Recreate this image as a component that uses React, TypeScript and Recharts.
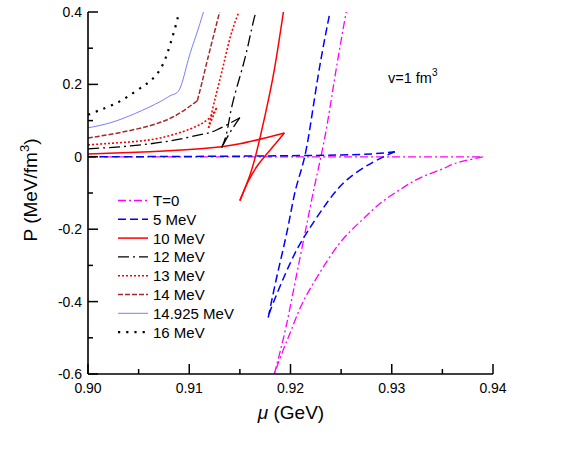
import { LineChart, Line, XAxis, YAxis } from 'recharts';

type Pt = [number, number];

// ── data: [mu (GeV), P (MeV/fm^3)] per branch ────────────────────────────────
const T0_GAS: Pt[] = [[0.9, 0], [0.939, 0]];
const T0_SPIN: Pt[] = [
  [0.939, 0], [0.9377, -0.008], [0.9362, -0.019], [0.9348, -0.036], [0.9328, -0.058],
  [0.9308, -0.091], [0.9288, -0.13], [0.9269, -0.179], [0.9249, -0.237], [0.9229, -0.32],
  [0.9212, -0.403], [0.9201, -0.477], [0.9193, -0.532], [0.9184, -0.6],
];
const T0_LIQ: Pt[] = [
  [0.9184, -0.6], [0.9195, -0.477], [0.9205, -0.34], [0.9215, -0.201], [0.9223, -0.091],
  [0.923, 0], [0.9237, 0.102], [0.9245, 0.24], [0.9255, 0.4],
];

const T5_GAS: Pt[] = [[0.9, 0.0], [0.91, 0.001], [0.92, 0.003], [0.925, 0.005], [0.928, 0.008], [0.9303, 0.014]];
const T5_SPIN: Pt[] = [
  [0.9303, 0.014], [0.9282, -0.014], [0.9256, -0.063], [0.9236, -0.127], [0.9216, -0.21],
  [0.92, -0.292], [0.9183, -0.403], [0.9178, -0.444],
];
const T5_LIQ: Pt[] = [
  [0.9178, -0.444], [0.9187, -0.325], [0.9197, -0.201], [0.9205, -0.091], [0.9214, 0],
  [0.9222, 0.13], [0.923, 0.268], [0.9239, 0.4],
];

const T10_GAS: Pt[] = [[0.9, 0.008], [0.9061, 0.014], [0.9111, 0.022], [0.915, 0.036], [0.9194, 0.066]];
const T10_SPIN: Pt[] = [[0.9194, 0.066], [0.918, 0.019], [0.9168, -0.022], [0.9158, -0.069], [0.915, -0.121]];
const T10_LIQ: Pt[] = [[0.915, -0.121], [0.916, -0.05], [0.9167, 0.019], [0.9175, 0.116], [0.9184, 0.24], [0.9193, 0.4]];

const T12_GAS: Pt[] = [[0.9, 0.022], [0.9042, 0.03], [0.9081, 0.044], [0.9111, 0.061], [0.9127, 0.074], [0.915, 0.108]];
const T12_SPIN: Pt[] = [[0.915, 0.108], [0.914, 0.066], [0.9132, 0.025]];
const T12_LIQ: Pt[] = [[0.9132, 0.025], [0.9137, 0.066], [0.9142, 0.138], [0.915, 0.221], [0.9157, 0.295], [0.9163, 0.37], [0.9166, 0.4]];

const T13_GAS: Pt[] = [[0.9, 0.033], [0.9041, 0.041], [0.9071, 0.052], [0.9101, 0.077], [0.9119, 0.105], [0.9127, 0.135]];
const T13_SPIN: Pt[] = [[0.9127, 0.135], [0.9123, 0.108], [0.9119, 0.08]];
const T13_LIQ: Pt[] = [[0.9119, 0.08], [0.9124, 0.143], [0.913, 0.21], [0.9136, 0.28], [0.9142, 0.345], [0.9149, 0.4]];

const T14_GAS: Pt[] = [[0.9, 0.052], [0.903, 0.066], [0.9061, 0.086], [0.9086, 0.113], [0.9108, 0.155]];
const T14_LIQ: Pt[] = [[0.9108, 0.155], [0.9113, 0.21], [0.9118, 0.268], [0.913, 0.4]];

const T14925: Pt[] = [
  [0.9, 0.08], [0.9022, 0.094], [0.9046, 0.119], [0.9071, 0.152], [0.9083, 0.171],
  [0.9091, 0.19], [0.9099, 0.268], [0.9107, 0.337], [0.9114, 0.4],
];

const T16: Pt[] = [
  [0.9, 0.116], [0.9017, 0.135], [0.9032, 0.154], [0.9046, 0.179], [0.9059, 0.204],
  [0.9069, 0.232], [0.9076, 0.268], [0.9081, 0.309], [0.9086, 0.356], [0.909, 0.4],
];

const X_TICKS = [0.9, 0.905, 0.91, 0.915, 0.92, 0.925, 0.93, 0.935, 0.94];
const Y_TICKS = [-0.6, -0.5, -0.4, -0.3, -0.2, -0.1, 0, 0.1, 0.2, 0.3, 0.4];

const SERIES = [
  { name: 'T=0', color: '#ff00ff', dash: '8 3 2 3', width: 1.3, branches: [T0_GAS, T0_SPIN, T0_LIQ] },
  { name: '5 MeV', color: '#0000ff', dash: '8 4', width: 1.5, branches: [T5_GAS, T5_SPIN, T5_LIQ] },
  { name: '10 MeV', color: '#ff0000', dash: undefined, width: 1.5, branches: [T10_GAS, T10_SPIN, T10_LIQ] },
  { name: '12 MeV', color: '#000000', dash: '11 4 2 4', width: 1.3, branches: [T12_GAS, T12_SPIN, T12_LIQ] },
  { name: '13 MeV', color: '#ff0000', dash: '2 2', width: 1.6, branches: [T13_GAS, T13_SPIN, T13_LIQ] },
  { name: '14 MeV', color: '#a52a2a', dash: '5 2', width: 1.5, branches: [T14_GAS, T14_LIQ] },
  { name: '14.925 MeV', color: '#5a5aff', dash: undefined, width: 0.8, branches: [T14925] },
  { name: '16 MeV', color: '#000000', dash: '2.2 6', width: 2.2, branches: [T16] },
];

const W = 581;
const H = 452;
const FONT = '"Liberation Sans", Arial, Helvetica, sans-serif';

const isMajorX = (v: number) => Math.round(v * 1000) % 10 === 0;
const isMajorY = (v: number) => Math.round(v * 10) % 2 === 0;

// ── inward ticks ──────────────────────────────────────────────────────────────
const BottomTick = ({ x, y, payload }: any) => {
  const major = isMajorX(payload.value);
  return (
    <g>
      <line x1={x} x2={x} y1={y} y2={y - (major ? 10 : 5)} stroke="#000" strokeWidth={1.5} />
      {major && (
        <text x={x} y={y + 19} textAnchor="middle" fontSize={14} fontFamily={FONT} fill="#000">
          {payload.value.toFixed(2)}
        </text>
      )}
    </g>
  );
};

const TopTick = ({ x, y, payload }: any) => {
  const major = isMajorX(payload.value);
  return <line x1={x} x2={x} y1={y} y2={y + (major ? 10 : 5)} stroke="#000" strokeWidth={1.5} />;
};

const LeftTick = ({ x, y, payload }: any) => {
  const major = isMajorY(payload.value);
  const v = payload.value;
  return (
    <g>
      <line x1={x} x2={x + (major ? 10 : 5)} y1={y} y2={y} stroke="#000" strokeWidth={1.5} />
      {major && (
        <text x={x - 6} y={y + 5} textAnchor="end" fontSize={14} fontFamily={FONT} fill="#000">
          {Math.abs(v) < 1e-9 ? '0' : v.toFixed(1)}
        </text>
      )}
    </g>
  );
};

const RightTick = ({ x, y, payload }: any) => {
  const major = isMajorY(payload.value);
  return <line x1={x} x2={x - (major ? 10 : 5)} y1={y} y2={y} stroke="#000" strokeWidth={1.5} />;
};

const axisLine = { stroke: '#000', strokeWidth: 1.6 };

export default function App() {
  return (
    <div style={{ position: 'absolute', left: 0, top: 0, width: W, height: H, background: '#fff' }}>
      <LineChart width={W} height={H} margin={{ top: 12, right: 88, bottom: 0, left: 0 }}>
        <XAxis
          xAxisId="b" dataKey="mu" type="number" domain={[0.9, 0.94]} ticks={X_TICKS} interval={0}
          height={78} tickSize={0} tickMargin={0} tickLine={false} axisLine={axisLine} tick={<BottomTick />}
          allowDataOverflow
        />
        <XAxis
          xAxisId="t" orientation="top" dataKey="mu" type="number" domain={[0.9, 0.94]} ticks={X_TICKS}
          interval={0} height={0} tickSize={0} tickMargin={0} tickLine={false} axisLine={axisLine} tick={<TopTick />}
          allowDataOverflow
        />
        <YAxis
          yAxisId="l" type="number" domain={[-0.6, 0.4]} ticks={Y_TICKS} interval={0} width={88}
          tickSize={0} tickMargin={0} tickLine={false} axisLine={axisLine} tick={<LeftTick />} allowDataOverflow
        />
        <YAxis
          yAxisId="r" orientation="right" type="number" domain={[-0.6, 0.4]} ticks={Y_TICKS} interval={0}
          width={0} tickSize={0} tickMargin={0} tickLine={false} axisLine={axisLine} tick={<RightTick />}
          allowDataOverflow
        />
        {SERIES.flatMap((s) =>
          s.branches.map((b, j) => (
            <Line
              key={`${s.name}-${j}`}
              xAxisId="b"
              yAxisId="l"
              data={b.map(([mu, p]) => ({ mu, p }))}
              dataKey="p"
              type={b.length > 2 ? 'natural' : 'linear'}
              stroke={s.color}
              strokeWidth={s.width}
              strokeDasharray={s.dash}
              dot={false}
              activeDot={false}
              isAnimationActive={false}
            />
          ))
        )}
      </LineChart>

      <svg width={W} height={H} style={{ position: 'absolute', left: 0, top: 0, pointerEvents: 'none' }}>
        {/* axis titles */}
        <text x={291} y={419} textAnchor="middle" fontSize={19} fontFamily={FONT} fill="#000">
          <tspan fontStyle="italic">μ</tspan> (GeV)
        </text>
        <text
          transform="translate(37,190) rotate(-90)" textAnchor="middle" fontSize={19}
          fontFamily={FONT} fill="#000"
        >
          P (MeV/fm<tspan dy={-8} fontSize={13}>3</tspan><tspan dy={8}>)</tspan>
        </text>
        <text x={388} y={83} fontSize={14.5} fontFamily={FONT} fill="#000">
          v=1 fm<tspan dy={-7} fontSize={10}>3</tspan>
        </text>

        {/* legend */}
        {SERIES.map((s, i) => {
          const y = 200.5 + i * 18.8;
          return (
            <g key={s.name}>
              <line
                x1={118} x2={148} y1={y} y2={y} stroke={s.color}
                strokeWidth={s.width} strokeDasharray={s.dash}
              />
              <text x={153} y={y + 5.5} fontSize={15} fontFamily={FONT} fill="#000">{s.name}</text>
            </g>
          );
        })}
      </svg>
    </div>
  );
}
